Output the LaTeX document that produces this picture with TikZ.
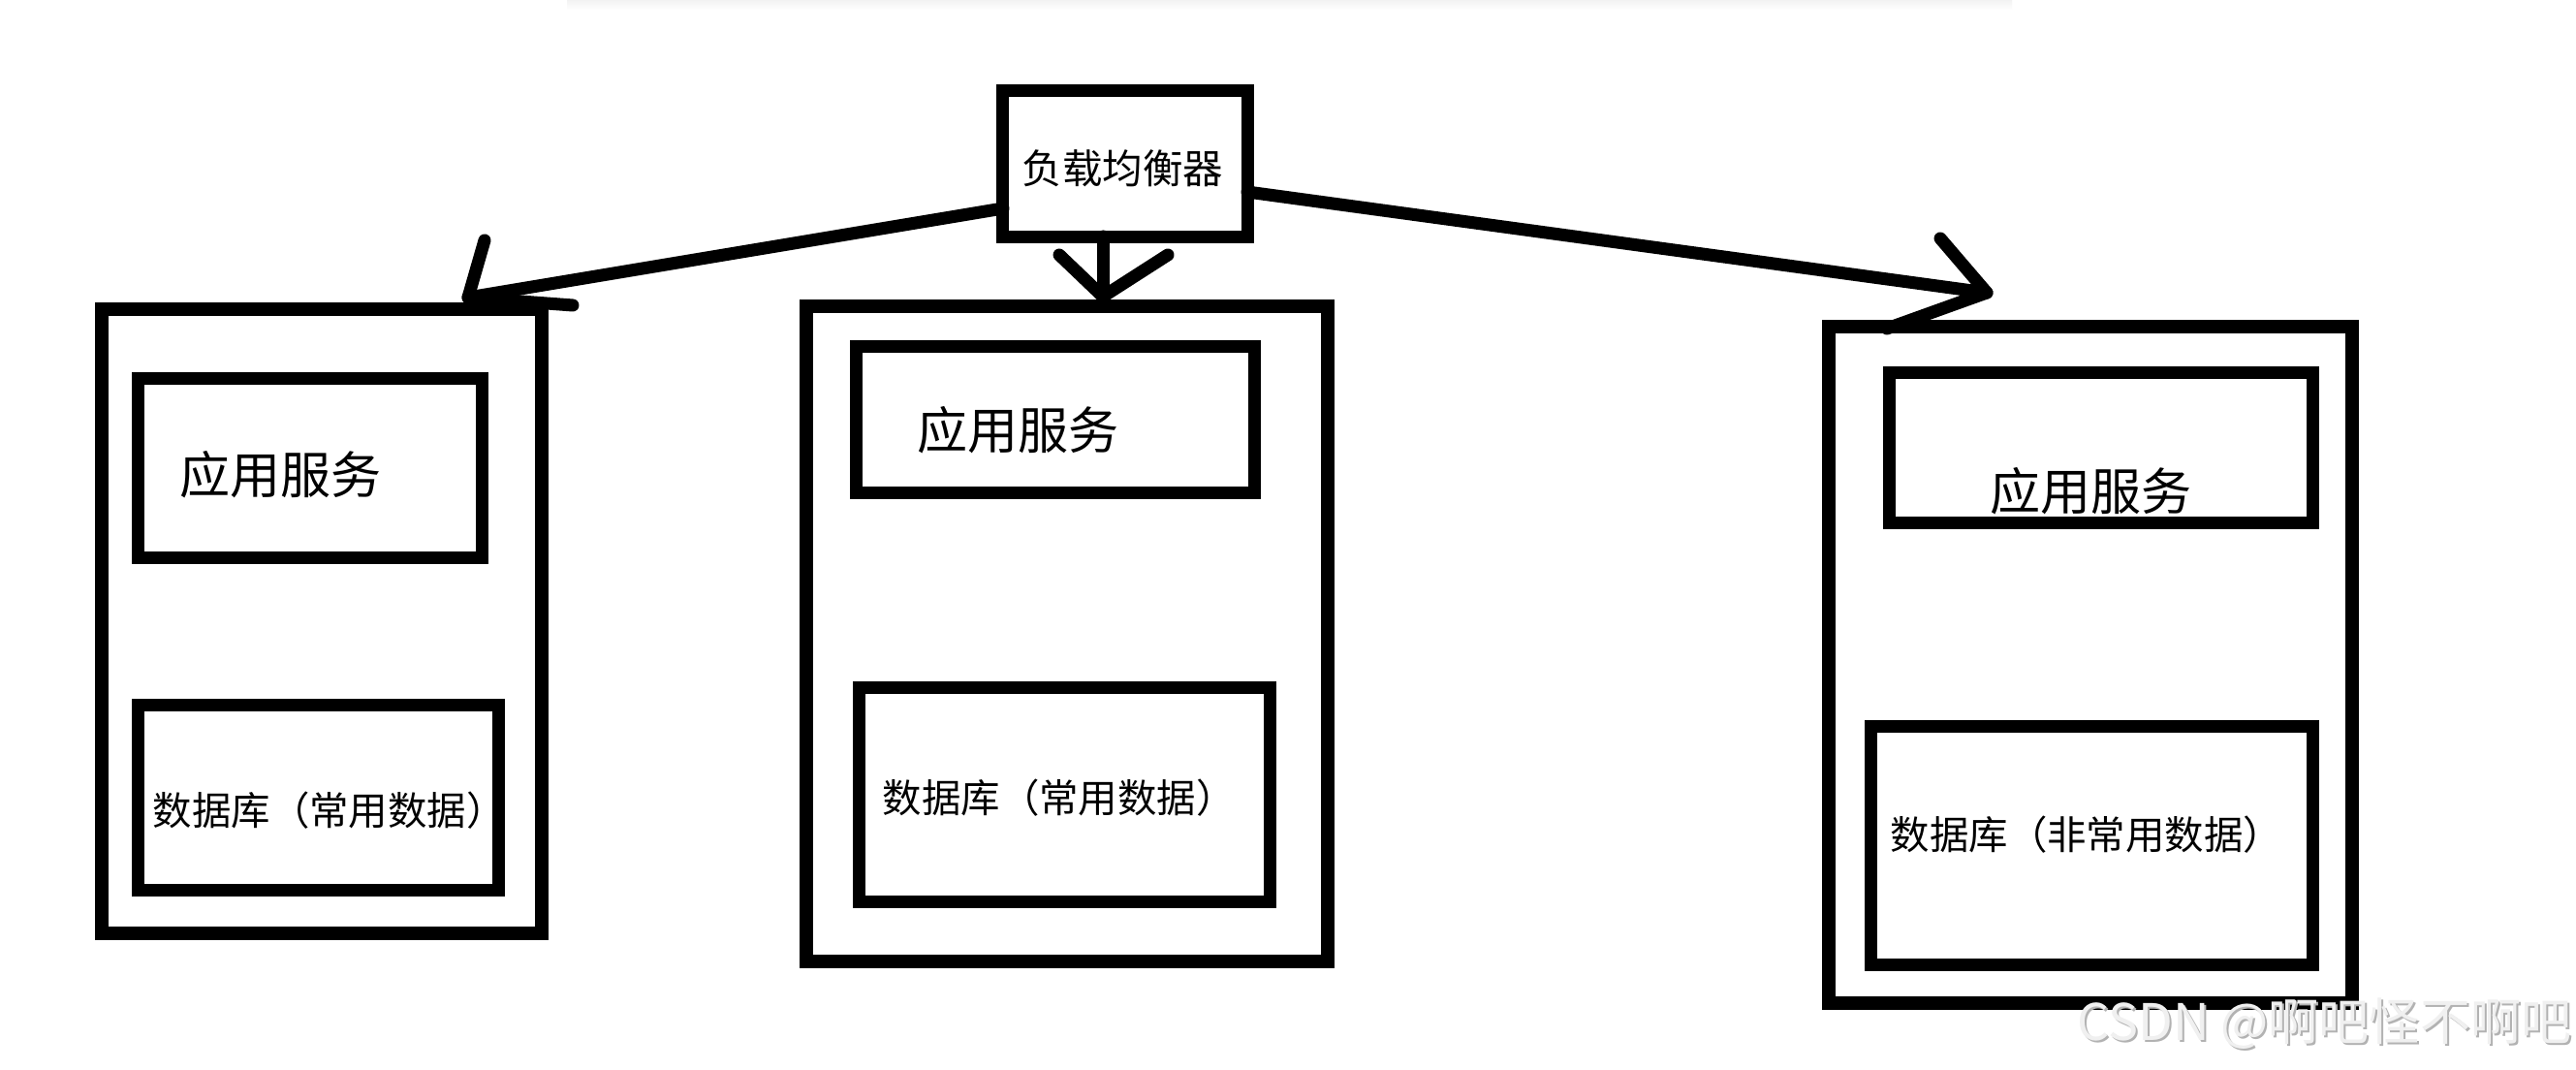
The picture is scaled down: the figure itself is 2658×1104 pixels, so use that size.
\documentclass[tikz,border=0pt]{standalone}
\usepackage{fontspec}
\setmainfont{Noto Sans CJK SC}
\begin{document}
\begin{tikzpicture}[x=0.01cm,y=-0.01cm,
  frame/.style={draw=black,line width=0.14cm,minimum width=#1,inner sep=0pt,outer sep=0pt},
  inbox/.style={draw=black,line width=0.13cm,inner sep=0pt,outer sep=0pt},
  apptxt/.style={anchor=west,inner sep=0pt,font=\fontsize{14.8pt}{16pt}\selectfont},
  dbtxt/.style={anchor=west,inner sep=0pt,font=\fontsize{11.5pt}{13pt}\selectfont},
  lbtxt/.style={anchor=west,inner sep=0pt,font=\fontsize{11.8pt}{13pt}\selectfont},
  wire/.style={draw=black,line width=0.13cm,line cap=round,line join=round}]
\useasboundingbox (0,0) rectangle (2658,1104);
\fill[white] (0,0) rectangle (2658,1104);
\shade[top color=gray!10,bottom color=white] (585,0) rectangle (2076,10);

% load balancer
\node[inbox,minimum width=2.52cm,minimum height=1.50cm] (lb) at (1161,169) {};
\node[lbtxt] (lbt) at (1054,174) {负载均衡器};

% server 1
\node[frame=4.54cm,minimum height=6.44cm] (s1) at (332,641) {};
\node[inbox,minimum width=3.54cm,minimum height=1.84cm] (a1) at (320,483) {};
\node[apptxt] (a1t) at (185,490) {应用服务};
\node[inbox,minimum width=3.71cm,minimum height=1.90cm] (d1) at (328.5,823) {};
\node[dbtxt] (d1t) at (157,836) {数据库（常用数据）};

% server 2
\node[frame=5.38cm,minimum height=6.76cm] (s2) at (1101,654) {};
\node[inbox,minimum width=4.10cm,minimum height=1.50cm] (a2) at (1089,433) {};
\node[apptxt] (a2t) at (946,444) {应用服务};
\node[inbox,minimum width=4.23cm,minimum height=2.20cm] (d2) at (1098.5,820) {};
\node[dbtxt] (d2t) at (910,823) {数据库（常用数据）};

% server 3
\node[frame=5.40cm,minimum height=6.98cm] (s3) at (2157,686) {};
\node[inbox,minimum width=4.36cm,minimum height=1.54cm] (a3) at (2168,462) {};
\node[apptxt] (a3t) at (2053,507) {应用服务};
\node[inbox,minimum width=4.55cm,minimum height=2.45cm] (d3) at (2158.5,872.5) {};
\node[dbtxt] (d3t) at (1950,861) {数据库（非常用数据）};

% arrows
\coordinate (sL) at (1035,215);
\coordinate (tL) at (483,307);
\coordinate (bL1) at (500,248);
\coordinate (bL2) at (591,315);
\coordinate (sM) at (1138,244);
\coordinate (tM) at (1138,306);
\coordinate (bM1) at (1093,263);
\coordinate (bM2) at (1205,263);
\coordinate (sR) at (1287,198);
\coordinate (tR) at (2050,302);
\coordinate (bR1) at (2002,246);
\coordinate (bR2) at (1947,339);

\draw[wire] (sL) -- (tL);
\draw[wire] (bL1) -- (tL) -- (bL2);
\draw[wire] (sM) -- (tM);
\draw[wire] (bM1) -- (tM) -- (bM2);
\draw[wire] (sR) -- (tR);
\draw[wire] (bR1) -- (tR) -- (bR2);

% watermark
\node[anchor=west,inner sep=0pt,text=gray!60,font=\fontsize{14.8pt}{16pt}\selectfont] (wms) at (2145,1058) {CSDN @啊吧怪不啊吧};
\node[anchor=west,inner sep=0pt,text=gray!12,font=\fontsize{14.8pt}{16pt}\selectfont] (wm) at (2143,1056) {CSDN @啊吧怪不啊吧};
\end{tikzpicture}
\end{document}
